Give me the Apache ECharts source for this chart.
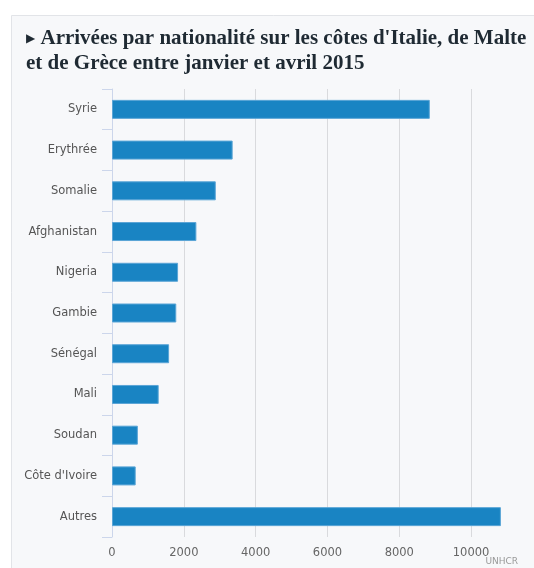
<!DOCTYPE html>
<html><head><meta charset="utf-8">
<script src="https://cdn.jsdelivr.net/npm/echarts@6/dist/echarts.min.js"></script>
<style>html,body{margin:0;padding:0;background:#fff;}#c{width:534px;height:568px;}</style>
</head><body><div id="c"></div>
<script>
const categories = ["Syrie","Erythrée","Somalie","Afghanistan","Nigeria","Gambie","Sénégal","Mali","Soudan","Côte d'Ivoire","Autres"];
const arrivals = [8850, 3360, 2890, 2350, 1840, 1790, 1590, 1300, 720, 660, 10830];
const xTicks = [0, 2000, 4000, 6000, 8000, 10000];
const titleLines = ["Arrivées par nationalité sur les côtes d'Italie, de Malte", "et de Grèce entre janvier et avril 2015"];
const credit = "UNHCR";

const chart = echarts.init(document.getElementById('c'), null, {renderer:'canvas'});
chart.setOption({
  animation: false,
  backgroundColor: '#ffffff',
  graphic: [
    {type:'rect', shape:{x:11.5, y:15.5, width:540, height:570}, style:{fill:'#f7f8fa', stroke:'#e2e4e8', lineWidth:1}, z:-10}
  ],
  title: [{
    text: '{tri|▶} ' + titleLines[0] + '\n' + titleLines[1],
    left: 21, top: 21,
    textStyle: {
      fontFamily: 'Liberation Serif', fontWeight: 'bold', fontSize: 21, color: '#1f2a33', lineHeight: 25,
      rich: { tri: {fontSize: 12, fontFamily:'DejaVu Sans', color:'#1f2a33', verticalAlign:'middle'} }
    }
  },{
    text: credit, right: 16, top: 557, padding: 0,
    textStyle: {fontFamily:'DejaVu Sans', fontWeight:'normal', fontSize: 9, color:'#999'}
  }],
  grid: {left: 112, top: 89, right: 27, bottom: 31, containLabel: false},
  xAxis: {
    type: 'value', min: 0, max: 11000, interval: 2000,
    axisLine: {show:false}, axisTick: {show:false},
    splitLine: {showMaxLine: false, lineStyle:{color:'#d9dadd', width:1}},
    axisLabel: {color:'#666', fontSize: 11.5, fontFamily:'DejaVu Sans', margin: 10, showMaxLabel:false,
      formatter: v => xTicks.includes(v) ? String(v) : ''}
  },
  yAxis: {
    type: 'category', data: categories, inverse: true,
    axisLine: {lineStyle:{color:'#ccd6eb'}},
    axisTick: {show:true, length: 10, lineStyle:{color:'#ccd6eb'}},
    axisLabel: {color:'#555', fontSize: 11.5, fontFamily:'DejaVu Sans', margin: 15}
  },
  series: [{
    type: 'bar', data: arrivals, barWidth: 19,
    itemStyle: {color:'#1984c3', borderColor:'#5aa5d6', borderWidth: 1}
  }]
});
</script></body></html>
